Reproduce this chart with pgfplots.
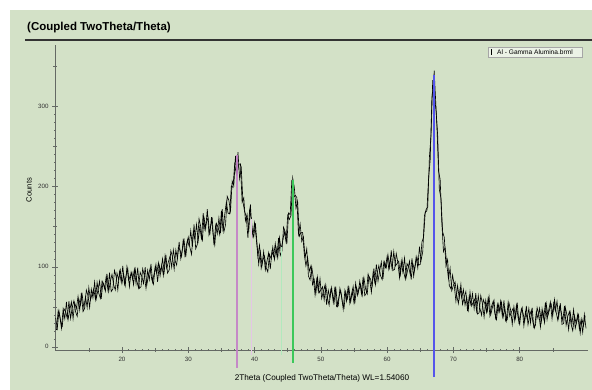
\documentclass[border=0pt]{standalone}
\usepackage{fontspec}
\setmainfont{Liberation Sans}
\usepackage{pgfplots}
\pgfplotsset{compat=1.18}
\definecolor{bg}{RGB}{211,225,199}
\definecolor{axc}{RGB}{100,105,100}
\definecolor{magl}{RGB}{196,128,200}
\definecolor{grnl}{RGB}{60,200,90}
\definecolor{blul}{RGB}{85,85,235}
\begin{document}
\begin{tikzpicture}[x=1pt,y=1pt]
\useasboundingbox (0,0) rectangle (592,390);
\fill[white] (0,0) rectangle (592,390);
\fill[bg] (10,0) rectangle (592,380);
\node[anchor=west,font=\bfseries\fontsize{11.5}{13}\selectfont,inner sep=0pt] at (27,362) {(Coupled TwoTheta/Theta)};
\draw[line width=1.1pt, black!80] (25,350) -- (592,350);
\node[font=\fontsize{7.6}{9}\selectfont, rotate=90] at (29,200) {Counts};
\node[font=\fontsize{8.2}{9}\selectfont] at (322,12) {2Theta (Coupled TwoTheta/Theta) WL=1.54060};
\node[draw=black!35, fill=white!55!bg, minimum width=94pt, minimum height=9.5pt, inner sep=0pt, anchor=north west] at (488,342.5) {};
\fill[black] (491,335) rectangle (492.3,340.5);
\node[anchor=west, font=\fontsize{6.6}{7}\selectfont, inner sep=0pt] at (497,337.8) {Al - Gamma Alumina.brml};
\begin{axis}[at={(55pt,40pt)}, anchor=south west, scale only axis,
  width=533pt, height=305pt,
  xmin=9.9, xmax=90.3, ymin=-4, ymax=377,
  axis x line*=bottom, axis y line*=left,
  axis line style={axc, line width=0.5pt},
  clip=false,
  xtick={20,30,40,50,60,70,80}, ytick={0,100,200,300},
  minor x tick num=9, minor y tick num=9,
  extra x ticks={15,25,35,45,55,65,75,85}, extra x tick labels={},
  extra y ticks={50,150,250,350}, extra y tick labels={},
  extra tick style={major tick length=4pt, tick align=center},
  tick align=center,
  major tick length=6pt, minor tick length=2.5pt,
  tick style={axc, line width=0.45pt},
  ticklabel style={font=\fontsize{6.2}{7}\selectfont, text=black!80},
  /pgf/number format/assume math mode=true,
  xticklabel shift=1pt, yticklabel shift=0pt,
  ]
\addplot[black, line width=0.62pt, mark=none] coordinates {
(10,36)(10.25,23)(10.5,45)(10.75,32)(11,26)(11.25,47.5)(11.5,44)(11.75,35.5)(12,57)(12.25,35.5)(12.5,49)(12.75,57.5)(13,44)(13.25,38)(13.5,59.5)(13.75,52)(14,65)(14.25,49)(14.5,62.5)(14.75,49)(15,74)(15.25,58.5)(15.5,66)(15.75,72.5)(16,59)(16.25,80.5)(16.5,67)(16.75,60.5)(17,82)(17.25,78)(17.5,69.5)(17.75,91)(18,69)(18.25,82)(18.5,90.5)(18.75,77)(19,71)(19.25,92)(19.5,83.5)(19.75,96)
(20,79)(20.25,91)(20.5,76.5)(20.75,100)(21,83)(21.25,88.5)(21.5,93)(21.75,77.5)(22,97)(22.25,82)(22.5,73.5)(22.75,93)(23,88)(23.25,79)(23.5,99.5)(23.75,77)(24,90)(24.25,98)(24.5,84)(24.75,78)(25,99)(25.25,91.5)(25.5,105)(25.75,88.5)(26,102)(26.25,89)(26.5,113.5)(26.75,98)(27,106)(27.25,113)(27.5,99.5)(27.75,121)(28,108)(28.25,102)(28.5,124)(28.75,121)(29,113)(29.25,135)(29.5,114)(29.75,128)
(30,137)(30.25,124)(30.5,115.5)(30.75,144)(31,134)(31.25,153)(31.5,132.5)(31.75,150)(32,134)(32.25,167)(32.5,147)(32.75,155.5)(33,161)(33.25,139.5)(33.5,162)(33.75,140)(34,127)(34.25,154)(34.5,149.5)(34.75,140)(35,170)(35.25,144)(35.5,165)(35.75,181)(36,167)(36.25,166)(36.5,201)(36.75,199)(37,228)(37.25,216)(37.5,243)(37.75,210)(38,223)(38.25,181)(38.5,169)(38.75,163)(39,136)(39.25,171)(39.5,160)(39.75,139)
(40,155)(40.25,136)(40.5,113)(40.75,127)(41,98)(41.25,108)(41.5,113.5)(41.75,99)(42,93.5)(42.25,115.5)(42.5,110)(42.75,124.5)(43,109)(43.25,123.5)(43.5,111)(43.75,136.5)(44,122)(44.25,132)(44.5,144)(44.75,131)(45,164)(45.25,159)(45.5,164)(45.75,211)(46,199)(46.25,173)(46.5,182)(46.75,138)(47,143)(47.25,143)(47.5,116)(47.75,101)(48,112)(48.25,94)(48.5,101)(48.75,77.5)(49,84)(49.25,66.5)(49.5,87)(49.75,67.5)
(50,71)(50.25,75)(50.5,58.5)(50.75,77)(51,61)(51.25,52)(51.5,71.5)(51.75,66)(52,55)(52.25,75)(52.5,51.5)(52.75,63)(53,70)(53.25,55)(53.5,48.5)(53.75,69)(54,60)(54.25,73)(54.5,56)(54.75,69)(55,55)(55.25,79.5)(55.5,64)(55.75,71.5)(56,78)(56.25,64.5)(56.5,86)(56.75,72.5)(57,66)(57.25,88)(57.5,84.5)(57.75,76)(58,98)(58.25,77.5)(58.5,92)(58.75,101.5)(59,89)(59.25,84)(59.5,106)(59.75,99)
(60,113)(60.25,97)(60.5,111)(60.75,97)(61,119)(61.25,101)(61.5,104)(61.75,107)(62,90)(62.25,109)(62.5,93.5)(62.75,84.5)(63,104)(63.25,99.5)(63.5,90)(63.75,110.5)(64,88)(64.25,102)(64.5,112)(64.75,102)(65,103)(65.25,131)(65.5,137)(65.75,168)(66,170)(66.25,210)(66.5,234)(66.75,311)(67,328)(67.1,345)(67.25,319)(67.5,278)(67.75,220)(68,209)(68.25,155)(68.5,119)(68.75,124)(69,103)(69.25,85)(69.5,98)(69.75,70)
(70,77)(70.25,81)(70.5,64)(70.75,54)(71,72)(71.25,61)(71.5,71.5)(71.75,52)(72,62)(72.25,46)(72.5,68.5)(72.75,51)(73,56)(73.25,60)(73.5,44.5)(73.75,64)(74,48)(74.25,39.5)(74.5,59)(74.75,53.5)(75,43)(75.25,62.5)(75.5,39)(75.75,50.5)(76,57)(76.25,41.5)(76.5,34)(76.75,53.5)(77,44)(77.25,55.5)(77.5,37)(77.75,48.5)(78,33)(78.25,55.5)(78.5,38)(78.75,43.5)(79,48)(79.25,32.5)(79.5,52)(79.75,36.5)
(80,28)(80.25,47.5)(80.5,42)(80.75,31.5)(81,51)(81.25,27.5)(81.5,39)(81.75,45.5)(82,30)(82.25,23.5)(82.5,44)(82.75,35.5)(83,48)(83.25,31)(83.5,44)(83.75,30)(84,54)(84.25,39)(84.5,46.5)(84.75,53)(85,40)(85.25,59)(85.5,43)(85.75,33)(86,50)(86.25,44)(86.5,32.5)(86.75,51)(87,27)(87.25,38)(87.5,44)(87.75,28)(88,20)(88.25,39)(88.5,29.5)(88.75,40.5)(89,22)(89.25,33.5)(89.5,18)(89.75,40.5)(90,23)
};
\addplot[black, line width=0.62pt, mark=none] coordinates {
(10.125,21)(10.375,45)(10.625,38)(10.875,23)(11.125,47)(11.375,35)(11.625,56)(11.875,34)(12.125,46)(12.375,56)(12.625,35)(12.875,55)(13.125,47.5)(13.375,63)(13.625,46)(13.875,67.5)(14.125,44)(14.375,48)(14.625,71)(14.875,64)(15.125,49)(15.375,72)(15.625,61)(15.875,81)(16.125,60)(16.375,71)(16.625,82)(16.875,60)(17.125,80.5)(17.375,73)(17.625,88)(17.875,71.5)(18.125,92.5)(18.375,69)(18.625,72)(18.875,95.5)(19.125,87.5)(19.375,71)(19.625,94)(19.875,81.5)
(20.125,101)(20.375,78)(20.625,89)(20.875,98)(21.125,75)(21.375,93)(21.625,84)(21.875,97)(22.125,79)(22.375,99)(22.625,73)(22.875,75)(23.125,97.5)(23.375,89)(23.625,73)(23.875,95.5)(24.125,83.5)(24.375,103.5)(24.625,81.5)(24.875,92.5)(25.125,103)(25.375,81)(25.625,102)(25.875,94)(26.125,110)(26.375,94)(26.625,115)(26.875,92)(27.125,96)(27.375,120)(27.625,112)(27.875,97)(28.125,121)(28.375,110)(28.625,131)(28.875,110)(29.125,122)(29.375,133)(29.625,112)(29.875,133)
(30.125,126)(30.375,145)(30.625,125)(30.875,153)(31.125,122.5)(31.375,128)(31.625,160)(31.875,150.5)(32.125,131.5)(32.375,162.5)(32.625,147)(32.875,172)(33.125,140)(33.375,151)(33.625,159.5)(33.875,127)(34.125,151.5)(34.375,141)(34.625,161)(34.875,142)(35.125,172)(35.375,143.5)(35.625,152.5)(35.875,188)(36.125,183)(36.375,169.5)(36.625,207)(36.875,201.5)(37.125,238.5)(37.375,216)(37.625,228)(37.875,228.5)(38.125,180.5)(38.375,186)(38.625,157.5)(38.875,165.5)(39.125,143.5)(39.375,178)(39.625,144)(39.875,137)
(40.125,154.5)(40.375,129)(40.625,103)(40.875,119)(41.125,102)(41.375,119)(41.625,96)(41.875,107)(42.125,117.5)(42.375,97)(42.625,119)(42.875,113)(43.125,129)(43.375,114)(43.625,136)(43.875,114)(44.125,119)(44.375,149.5)(44.625,143.5)(44.875,128.5)(45.125,167)(45.375,165)(45.625,208.5)(45.875,186)(46.125,189.5)(46.375,186.5)(46.625,141)(46.875,153.5)(47.125,131.5)(47.375,137.5)(47.625,111)(47.875,122.5)(48.125,88.5)(48.375,83.5)(48.625,100)(48.875,86)(49.125,65)(49.375,84)(49.625,69)(49.875,85)
(50.125,60.5)(50.375,69)(50.625,77)(50.875,52.5)(51.125,70.5)(51.375,61)(51.625,74)(51.875,55.5)(52.125,75)(52.375,50)(52.625,51)(52.875,73)(53.125,64)(53.375,47)(53.625,70)(53.875,57)(54.125,76.5)(54.375,54.5)(54.625,65.5)(54.875,75.5)(55.125,54)(55.375,74)(55.625,67)(55.875,82)(56.125,66)(56.375,87)(56.625,64)(56.875,67)(57.125,91)(57.375,84)(57.625,68)(57.875,92)(58.125,81)(58.375,103)(58.625,82)(58.875,95)(59.125,106)(59.375,85)(59.625,106)(59.875,99)
(60.125,115)(60.375,99)(60.625,120.5)(60.875,95.5)(61.125,96.5)(61.375,116.5)(61.625,105)(61.875,86)(62.125,106.5)(62.375,93)(62.625,111)(62.875,87)(63.125,97)(63.375,107)(63.625,84)(63.875,104)(64.125,96)(64.375,112.5)(64.625,98.5)(64.875,125)(65.125,108)(65.375,119)(65.625,163.5)(65.875,171.5)(66.125,174.5)(66.375,236.5)(66.625,264.5)(66.875,333)(67.125,314.5)(67.375,295)(67.625,264)(67.875,196.5)(68.125,185.5)(68.375,143.5)(68.625,136.5)(68.875,101)(69.125,109)(69.375,76.5)(69.625,72.5)(69.875,89.5)
(70.125,76.5)(70.375,57)(70.625,76.5)(70.875,61)(71.125,78)(71.375,53)(71.625,62)(71.875,69)(72.125,44.5)(72.375,63)(72.625,53)(72.875,66.5)(73.125,47.5)(73.375,67)(73.625,41)(73.875,42.5)(74.125,64)(74.375,54)(74.625,37)(74.875,58)(75.125,45)(75.375,63)(75.625,40)(75.875,49)(76.125,58)(76.375,34)(76.625,53)(76.875,43)(77.125,57)(77.375,38)(77.625,58)(77.875,32)(78.125,34)(78.375,55)(78.625,46)(78.875,28)(79.125,50)(79.375,36)(79.625,55)(79.875,31)
(80.125,41)(80.375,49)(80.625,26)(80.875,44)(81.125,35)(81.375,48)(81.625,30)(81.875,49)(82.125,24)(82.375,27)(82.625,49)(82.875,41)(83.125,24.5)(83.375,47.5)(83.625,35.5)(83.875,55.5)(84.125,34)(84.375,46)(84.625,56)(84.875,35)(85.125,54.5)(85.375,44.5)(85.625,57)(85.875,36.5)(86.125,54.5)(86.375,28)(86.625,29)(86.875,49.5)(87.125,39.5)(87.375,21.5)(87.625,42.5)(87.875,28.5)(88.125,46.5)(88.375,23)(88.625,32)(88.875,40)(89.125,17)(89.375,35)(89.625,26)(89.875,39)
};
\addplot[magl!45, line width=0.5pt] coordinates {(39.45,-10) (39.45,160)};
\addplot[grnl!40, line width=0.5pt] coordinates {(44.0,-10) (44.0,125)};
\addplot[magl, line width=2.2pt, opacity=0.9] coordinates {(37.35,-26) (37.35,240)};
\addplot[grnl, line width=1.2pt] coordinates {(45.8,-20) (45.8,208)};
\addplot[blul, line width=1.3pt] coordinates {(67.05,-38) (67.05,340)};
\end{axis}
\end{tikzpicture}
\end{document}
